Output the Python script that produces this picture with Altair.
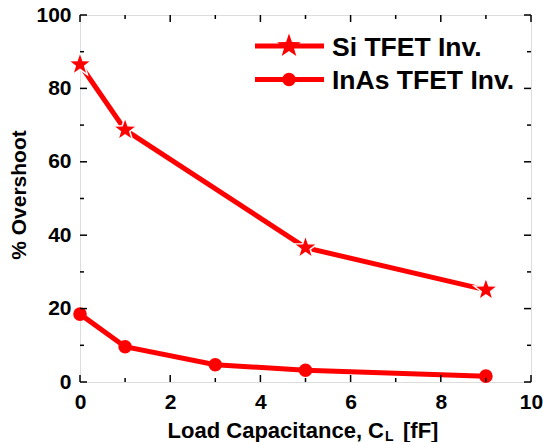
import altair as alt
import pandas as pd

# Data
si_x = [0, 1, 5, 9]
si_y = [86.5, 68.7, 36.6, 25.1]
inas_x = [0, 1, 3, 5, 9]
inas_y = [18.5, 9.6, 4.7, 3.2, 1.6]
x_ticks = list(range(0, 11))
y_ticks = list(range(0, 101, 10))

RED = "#ff0000"
FONT = "Liberation Sans"
W, H = 451, 367

STAR = ("M0,-1L0.235,-0.324L0.951,-0.309L0.380,0.124L0.588,0.809L0,0.4"
        "L-0.588,0.809L-0.380,0.124L-0.951,-0.309L-0.235,-0.324Z")
STAR_SIZE = 620
CIRC_SIZE = 185

si = pd.DataFrame({"x": si_x, "y": si_y})
inas = pd.DataFrame({"x": inas_x, "y": inas_y})

xs = alt.Scale(domain=[0, 10], nice=False, zero=False)
ys = alt.Scale(domain=[0, 100], nice=False, zero=False)

xaxis = alt.Axis(values=[0, 2, 4, 6, 8, 10], ticks=False, domain=False, grid=False,
                 labelFont=FONT, labelFontWeight="bold", labelFontSize=21,
                 labelColor="black", labelPadding=9, title=None, labelFlush=False)
yaxis = alt.Axis(values=[0, 20, 40, 60, 80, 100], ticks=False, domain=False, grid=False,
                 labelFont=FONT, labelFontWeight="bold", labelFontSize=21,
                 labelColor="black", labelPadding=9, title=None)

si_line = alt.Chart(si).mark_line(color=RED, strokeWidth=5).encode(
    x=alt.X("x:Q", scale=xs, axis=xaxis), y=alt.Y("y:Q", scale=ys, axis=yaxis))
si_pts = alt.Chart(si).mark_point(shape=STAR, filled=True, fill=RED, size=STAR_SIZE,
                                  stroke="white", strokeWidth=1.5, opacity=1).encode(
    x=alt.X("x:Q"), y=alt.Y("y:Q"))
inas_line = alt.Chart(inas).mark_line(color=RED, strokeWidth=5).encode(
    x=alt.X("x:Q"), y=alt.Y("y:Q"))
inas_pts = alt.Chart(inas).mark_circle(color=RED, size=CIRC_SIZE, opacity=1).encode(
    x=alt.X("x:Q"), y=alt.Y("y:Q"))

xt = pd.DataFrame({"v": x_ticks, "major": [v % 2 == 0 for v in x_ticks]})
yt = pd.DataFrame({"v": y_ticks, "major": [v % 20 == 0 for v in y_ticks]})

def xtick(major, y0, y1):
    return alt.Chart(xt).transform_filter(alt.datum.major == major).mark_rule(
        color="black", strokeWidth=1.5).encode(
        x=alt.X("v:Q"), y=alt.value(y0), y2=alt.value(y1))

def ytick(major, x0, x1):
    return alt.Chart(yt).transform_filter(alt.datum.major == major).mark_rule(
        color="black", strokeWidth=1.5).encode(
        y=alt.Y("v:Q"), x=alt.value(x0), x2=alt.value(x1))

ticks = [
    xtick(True, H, H - 7), xtick(False, H, H - 4),
    xtick(True, 0, 7), xtick(False, 0, 4),
    ytick(True, 0, 7), ytick(False, 0, 4),
    ytick(True, W, W - 7), ytick(False, W, W - 4),
]

# Legend
leg_labels = ["Si TFET Inv.", "InAs TFET Inv."]
one = pd.DataFrame({"a": [0]})
leg = []
for i, (lab, ly) in enumerate(zip(leg_labels, [31, 64.5])):
    leg.append(alt.Chart(one).mark_rule(color=RED, strokeWidth=5).encode(
        x=alt.value(175), x2=alt.value(244), y=alt.value(ly)))
    if i == 0:
        leg.append(alt.Chart(one).mark_point(shape=STAR, filled=True, fill=RED, size=STAR_SIZE,
                                             opacity=1, strokeWidth=0).encode(
            x=alt.value(209), y=alt.value(ly)))
    else:
        leg.append(alt.Chart(one).mark_circle(color=RED, size=CIRC_SIZE, opacity=1).encode(
            x=alt.value(209), y=alt.value(ly)))
    leg.append(alt.Chart(pd.DataFrame({"t": [lab]})).mark_text(
        font=FONT, fontWeight="bold", fontSize=26.5, align="left", baseline="alphabetic",
        color="black").encode(x=alt.value(252), y=alt.value(ly + 9.5), text="t:N"))

# Axis titles
titles = [
    alt.Chart(pd.DataFrame({"t": ["% Overshoot"]})).mark_text(
        font=FONT, fontWeight="bold", fontSize=21, angle=270, align="center",
        baseline="middle", color="black").encode(
        x=alt.value(-60), y=alt.value(180), text="t:N"),
    alt.Chart(pd.DataFrame({"t": ["Load Capacitance, C"]})).mark_text(
        font=FONT, fontWeight="bold", fontSize=22, align="right",
        baseline="alphabetic", color="black").encode(
        x=alt.value(304), y=alt.value(H + 56), text="t:N"),
    alt.Chart(pd.DataFrame({"t": ["L"]})).mark_text(
        font=FONT, fontWeight="bold", fontSize=14, align="left",
        baseline="alphabetic", color="black").encode(
        x=alt.value(305), y=alt.value(H + 58.5), text="t:N"),
    alt.Chart(pd.DataFrame({"t": ["[fF]"]})).mark_text(
        font=FONT, fontWeight="bold", fontSize=22, align="left",
        baseline="alphabetic", color="black").encode(
        x=alt.value(323), y=alt.value(H + 56), text="t:N"),
]

chart = alt.layer(si_line, inas_line, si_pts, inas_pts, *ticks, *leg, *titles).properties(
    width=W, height=H,
    autosize=alt.AutoSizeParams(type="none"),
    padding={"left": 80, "top": 15, "right": 12, "bottom": 60},
).configure_view(stroke="black", strokeWidth=2).configure(background="white")

chart.save("out.html", embed_options={"renderer": "svg", "actions": False})
